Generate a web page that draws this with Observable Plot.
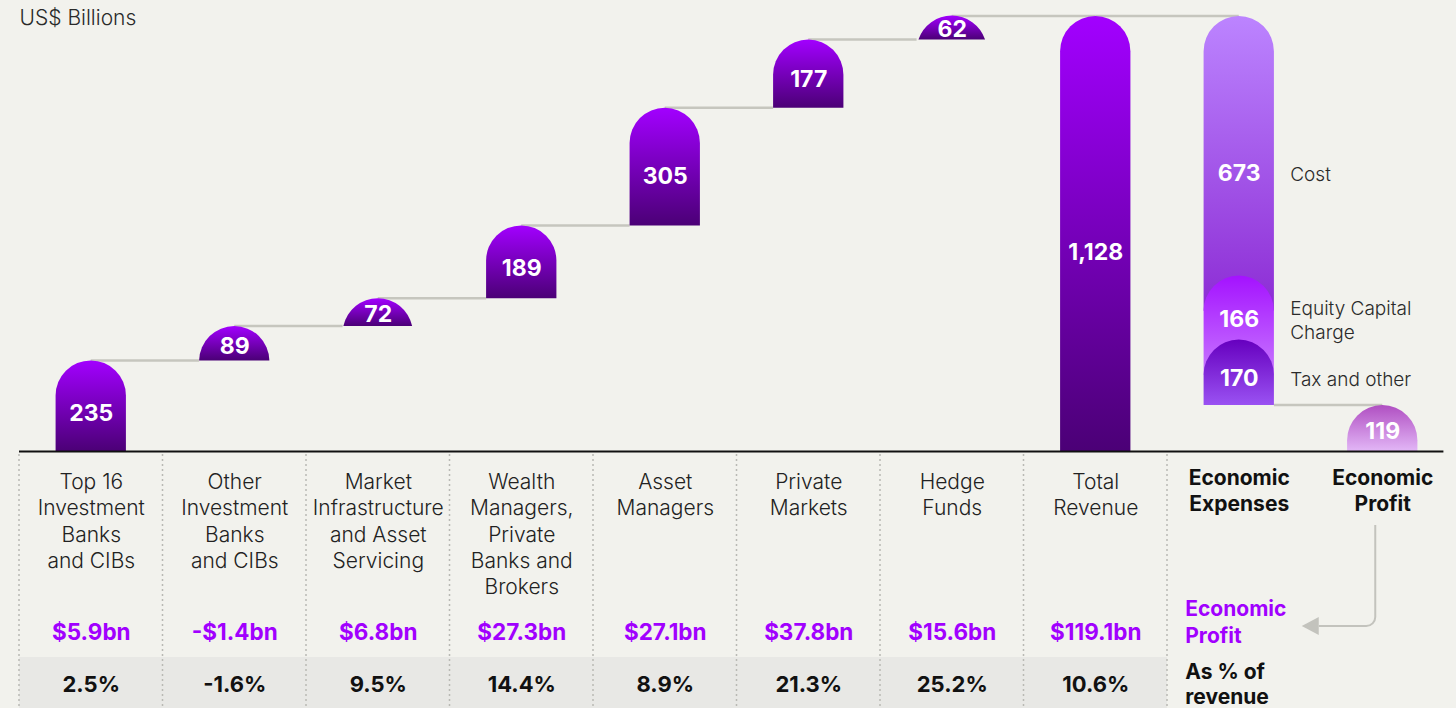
<!DOCTYPE html>
<html><head><meta charset="utf-8">
<script src="https://cdn.jsdelivr.net/npm/d3@7"></script>
<script src="https://cdn.jsdelivr.net/npm/@observablehq/plot@0.6"></script>
<style>
html,body{margin:0;padding:0;background:#f2f2ed;}
#chart{position:relative;width:1456px;height:708px;overflow:hidden;}
</style></head>
<body><div id="chart"></div>
<script>
// ---------- data ----------
const categories = [
  "Top 16\nInvestment\nBanks\nand CIBs",
  "Other\nInvestment\nBanks\nand CIBs",
  "Market\nInfrastructure\nand Asset\nServicing",
  "Wealth\nManagers,\nPrivate\nBanks and\nBrokers",
  "Asset\nManagers",
  "Private\nMarkets",
  "Hedge\nFunds",
  "Total\nRevenue",
  "Economic\nExpenses",
  "Economic\nProfit"
];
const revenue = [235, 89, 72, 189, 305, 177, 62];
const totalRevenue = 1128;
const expenseNames = ["Cost", "Equity Capital\nCharge", "Tax and other"];
const expenses = [673, 166, 170];
const economicProfit = 119;
const profitLabels = ["$5.9bn", "-$1.4bn", "$6.8bn", "$27.3bn", "$27.1bn", "$37.8bn", "$15.6bn", "$119.1bn"];
const marginLabels = ["2.5%", "-1.6%", "9.5%", "14.4%", "8.9%", "21.3%", "25.2%", "10.6%"];
const unitLabel = "US$ Billions";
const profitRowLabel = "Economic\nProfit";
const marginRowLabel = "As % of\nrevenue";

// ---------- derived ----------
const segs = [];
let acc = 0;
revenue.forEach((v, i) => { segs.push({cat: categories[i], y1: acc, y2: acc + v, v, grad: "gRev"}); acc += v; });
segs.push({cat: categories[7], y1: 0, y2: totalRevenue, v: totalRevenue, grad: "gRev", frac: 0.457});
let topV = totalRevenue;
const expGrads = ["gCost", "gEq", "gTax"];
const expFrac = [0.395, 0.32, 0.41];
expenses.forEach((v, i) => {
  segs.push({cat: categories[8], y1: topV - v, y2: topV, v, grad: expGrads[i], extend: i < expenses.length - 1, frac: expFrac[i], side: expenseNames[i]});
  topV -= v;
});
segs.push({cat: categories[9], y1: 0, y2: economicProfit, v: economicProfit, grad: "gProfit", frac: 0.43});
const labelData = segs.map(s => ({cat: s.cat, ly: s.y1 + s.v * (s.frac ?? 0.42), t: d3.format(",")(s.v), side: s.side}));

const conns = [];
let c = 0;
revenue.forEach((v, i) => {
  c += v;
  if (i < revenue.length - 1) conns.push({from: categories[i], to: categories[i + 1], v: c, start: "center", end: "left"});
  else conns.push({from: categories[i], to: categories[7], v: totalRevenue, start: "center", end: "center"});
});
conns.push({from: categories[7], to: categories[8], v: totalRevenue, start: "center", end: "center"});
conns.push({from: categories[8], to: categories[9], v: economicProfit, start: "right", end: "center"});

const gradients = [
  ["gRev", "#a200ff", "#4b0076"],
  ["gCost", "#bc84ff", "#8c2cd4"],
  ["gEq", "#a412ff", "#c878ff"],
  ["gTax", "#6600bf", "#9a52f2"],
  ["gProfit", "#b04fc2", "#e2b6f6"]
];

function barPath(xl, w, yt, yb) {
  const r = w / 2, cx = xl + r, h = yb - yt;
  if (h >= r) return `M${xl},${yb}L${xl},${yt + r}A${r},${r} 0 0 1 ${xl + w},${yt + r}L${xl + w},${yb}Z`;
  const d = r - h, hw = Math.sqrt(r * r - d * d);
  return `M${cx - hw},${yb}A${r},${r} 0 0 1 ${cx + hw},${yb}Z`;
}

function getScales(args) { return args.find(a => a && typeof a.x === "function" && typeof a.y === "function"); }

const barsMark = (...args) => {
  const {x, y} = getScales(args);
  const bw = x.bandwidth();
  const g = d3.create("svg:g");
  const defs = g.append("defs");
  for (const [id, c0, c1] of gradients) {
    const lg = defs.append("linearGradient").attr("id", id).attr("x1", 0).attr("y1", 0).attr("x2", 0).attr("y2", 1);
    lg.append("stop").attr("offset", 0).attr("stop-color", c0);
    lg.append("stop").attr("offset", 1).attr("stop-color", c1);
  }
  const pos = (cat, where) => where === "left" ? x(cat) : where === "right" ? x(cat) + bw : x(cat) + bw / 2;
  g.append("g").attr("stroke", "#c6c6be").attr("stroke-width", 2.5).attr("fill", "none")
    .selectAll("line").data(conns).join("line")
    .attr("x1", d => pos(d.from, d.start)).attr("x2", d => pos(d.to, d.end))
    .attr("y1", d => y(d.v)).attr("y2", d => y(d.v));
  g.append("g").selectAll("path").data(segs).join("path")
    .attr("fill", d => `url(#${d.grad})`)
    .attr("d", d => barPath(x(d.cat), bw, y(d.y2), y(d.y1) + (d.extend ? bw / 2 : 0)));
  return g.node();
};

const tableMark = (...args) => {
  const {x, y} = getScales(args);
  const bw = x.bandwidth(), step = x.step();
  const edge = cat => x(cat) - (step - bw) / 2;
  const y0 = y(0);
  const g = d3.create("svg:g");
  const left = edge(categories[0]), right8 = edge(categories[8]);
  g.append("rect").attr("x", left).attr("y", y0 + 206).attr("width", right8 - left).attr("height", 60).attr("fill", "#e8e8e5");
  g.append("g").attr("stroke", "#b9b9b4").attr("stroke-width", 1.5).attr("stroke-dasharray", "2,3")
    .selectAll("line").data(categories.slice(0, 9)).join("line")
    .attr("x1", d => edge(d)).attr("x2", d => edge(d)).attr("y1", y0 + 3).attr("y2", y0 + 260);
  g.append("line").attr("x1", left).attr("x2", x(categories[9]) + bw + 26).attr("y1", y0 + 0.5).attr("y2", y0 + 0.5)
    .attr("stroke", "#111").attr("stroke-width", 2.2);
  // arrow from Economic Profit header to the profit row
  const px = x(categories[9]) + bw / 2 - 7;
  const ex = x(categories[8]) + bw / 2 + 80;
  const ay = y0 + 175, r = 9;
  g.append("path").attr("fill", "none").attr("stroke", "#c3c3bd").attr("stroke-width", 2)
    .attr("d", `M${px},${y0 + 74}L${px},${ay - r}A${r},${r} 0 0 1 ${px - r},${ay}L${ex},${ay}`);
  g.append("path").attr("fill", "#c3c3bd")
    .attr("d", `M${ex - 17},${ay}L${ex},${ay - 9}L${ex},${ay + 9}Z`);
  return g.node();
};

const FONT = "Inter, 'Noto Sans', sans-serif";
const revCats = categories.slice(0, 8);

const plot = Plot.plot({
  width: 1456,
  height: 708,
  marginTop: 16,
  marginBottom: 257,
  marginLeft: 19,
  marginRight: 2,
  style: {background: "#f2f2ed", fontFamily: FONT, overflow: "visible"},
  x: {type: "band", domain: categories, range: [19, 1454], paddingInner: 0.51, paddingOuter: 0.255, round: false, axis: null},
  y: {domain: [0, totalRevenue], range: [451, 16], axis: null},
  marks: [
    barsMark,
    Plot.text(labelData, {x: "cat", y: "ly", text: "t", fill: "white", fontWeight: 700, fontSize: 23}),
    Plot.text(labelData.filter(d => d.side), {x: "cat", y: "ly", text: "side", textAnchor: "start", dx: 51, fill: "#2a2a2a", fontSize: 19, lineHeight: 1.26, fontWeight: 300}),
    tableMark,
    Plot.text(revCats, {x: d => d, text: d => d, frameAnchor: "bottom", lineAnchor: "top", dy: 19, fontSize: 21, lineHeight: 1.253, fill: "#222", fontWeight: 300}),
    Plot.text(categories.slice(8), {x: d => d, text: d => d, frameAnchor: "bottom", lineAnchor: "top", dy: 15, fontSize: 21, lineHeight: 1.24, fill: "#111", fontWeight: 700}),
    Plot.text(profitLabels, {x: (d, i) => revCats[i], text: d => d, frameAnchor: "bottom", dy: 188, fontSize: 22.5, fill: "#a100ff", fontWeight: 700}),
    Plot.text(marginLabels, {x: (d, i) => revCats[i], text: d => d, frameAnchor: "bottom", dy: 240, fontSize: 22, fill: "#111", fontWeight: 700}),
    Plot.text([profitRowLabel], {x: () => categories[8], text: d => d, frameAnchor: "bottom", lineAnchor: "top", textAnchor: "start", dx: -54, dy: 146, fontSize: 21, lineHeight: 1.26, fill: "#a100ff", fontWeight: 700}),
    Plot.text([marginRowLabel], {x: () => categories[8], text: d => d, frameAnchor: "bottom", lineAnchor: "top", textAnchor: "start", dx: -54, dy: 209, fontSize: 21, lineHeight: 1.22, fill: "#111", fontWeight: 700}),
    Plot.text([unitLabel], {frameAnchor: "top-left", text: d => d, textAnchor: "start", dy: -6, fontSize: 21, fill: "#2a2a2a", fontWeight: 300})
  ]
});
document.getElementById("chart").appendChild(plot);
</script>
</body></html>
